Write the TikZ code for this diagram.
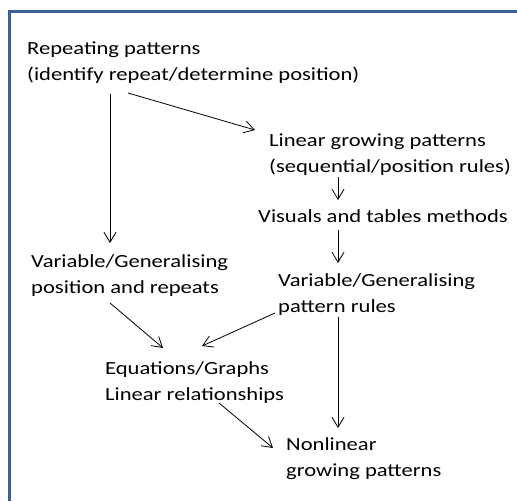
\documentclass[tikz,border=0pt]{standalone}
\usepackage{fontspec}
\setmainfont[FakeStretch=1.22]{Carlito}
\usetikzlibrary{arrows.meta,calc}
\definecolor{frameblue}{HTML}{3A6096}

\begin{document}
\begin{tikzpicture}[
        x=1pt, y=-1pt,
        every node/.style={anchor=base west, inner sep=0pt, align=left,
            font=\fontsize{18.5}{26}\selectfont},
        link/.style={draw, line width=0.8pt, -{Straight Barb[length=10pt,width=12pt]}}
    ]
 \useasboundingbox (0,0) rectangle (517,501);
 \draw[frameblue, line width=3pt] (9.5,501) -- (9.5,11.5) -- (517,11.5);
 % stages (placed at the baseline of their last line)
 \node (repeat) at (27,80) {Repeating patterns\\(identify repeat/determine position)};
 \node (linear) at (269,172) {Linear growing patterns\\(sequential/position rules)};
 \node (visual) at (258,222) {Visuals and tables methods};
 \node (rules) at (278,312) {Variable/Generalising\\pattern rules};
 \node (posrep) at (31,293) {Variable/Generalising\\position and repeats};
 \node (equat) at (105,400) {Equations/Graphs\\Linear relationships};
 \node (nonlin) at (286,476) {Nonlinear\\growing patterns};
 % links
 \draw[link] ($(repeat.base west)+(83,14)$) -- ($(posrep.base west)+(79,-50)$);
 \draw[link] ($(repeat.base west)+(101,13)$) -- ($(linear.base west)+(-14,-42)$);
 \draw[link] ($(linear.base west)+(69,5)$) -- ($(visual.base west)+(80,-22)$);
 \draw[link] ($(visual.base west)+(80,8)$) -- ($(rules.base west)+(60,-49)$);
 \draw[link] ($(rules.base west)+(-3,1)$) -- ($(equat.base west)+(97,-54)$);
 \draw[link] ($(posrep.base west)+(79,10)$) -- ($(equat.base west)+(58,-52)$);
 \draw[link] ($(equat.base west)+(114,3)$) -- ($(nonlin.base west)+(-13,-28)$);
 \draw[link] ($(rules.base west)+(60,5)$) -- ($(nonlin.base west)+(52,-48)$);
\end{tikzpicture}
\end{document}
